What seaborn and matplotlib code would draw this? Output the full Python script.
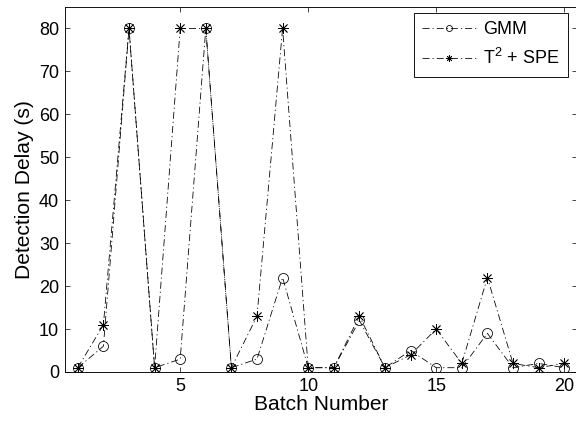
import matplotlib
matplotlib.use("Agg")
import matplotlib.pyplot as plt
import seaborn as sns
import pandas as pd

batch = list(range(1, 21))
gmm = [1, 6, 80, 1, 3, 80, 1, 3, 22, 1, 1, 12, 1, 5, 1, 1, 9, 1, 2, 1]
t2spe = [1, 11, 80, 1, 80, 80, 1, 13, 80, 1, 1, 13, 1, 4, 10, 2, 22, 2, 1, 2]
labels = ["GMM", r"T$^2$ + SPE"]
yticks = [0, 10, 20, 30, 40, 50, 60, 70, 80]
xticks = [5, 10, 15, 20]

sns.set_style("ticks")
plt.rcParams["font.family"] = ["Liberation Sans", "DejaVu Sans"]
plt.rcParams["mathtext.fontset"] = "custom"
plt.rcParams["mathtext.rm"] = "Liberation Sans"
plt.rcParams["mathtext.it"] = "Liberation Sans"
plt.rcParams["lines.scale_dashes"] = False
plt.rcParams["text.color"] = "k"
plt.rcParams["axes.labelcolor"] = "k"
plt.rcParams["xtick.color"] = "k"
plt.rcParams["ytick.color"] = "k"

df = pd.DataFrame({"Batch": batch, "GMM": gmm, "T2SPE": t2spe})

fig = plt.figure(figsize=(576 / 72, 425 / 72), dpi=72)
L, R = 65, 577
ax = fig.add_axes([L / 576, 1 - 372 / 425, (R - L) / 576, (372 - 7) / 425])

dash = (0, (7, 3, 1.2, 3))
sns.lineplot(data=df, x="Batch", y="GMM", ax=ax, color="k", linewidth=0.8,
             linestyle=dash, marker="o", markersize=10, markerfacecolor="none",
             markeredgecolor="k", markeredgewidth=0.8, label=labels[0])
sns.lineplot(data=df, x="Batch", y="T2SPE", ax=ax, color="k", linewidth=0.8,
             linestyle=dash, marker=(8, 2, 0), markersize=11,
             markeredgecolor="k", markeredgewidth=0.8, label=labels[1])

ax.set_xlim(0.5, 20.5)
ax.set_ylim(0, 85)
ax.set_xticks(xticks)
ax.set_yticks(yticks)
ax.tick_params(direction="in", top=True, right=True, length=5, width=0.7,
               labelsize=18, colors="k", labelcolor="k", pad=6)
for s in ax.spines.values():
    s.set_visible(True)
    s.set_linewidth(0.9)
    s.set_color("k")
ax.set_xlabel("Batch Number", fontsize=21, labelpad=0, color="k")
ax.set_ylabel("Detection Delay (s)", fontsize=21, labelpad=5, color="k")

leg = ax.legend(loc="upper right", fontsize=18, handlelength=3.0,
                fancybox=False, framealpha=1, edgecolor="k",
                borderaxespad=0.35, borderpad=0.45, labelspacing=0.55,
                handletextpad=0.4, markerscale=0.6,
                bbox_to_anchor=((574 - L) / (R - L), 1.0))
leg.get_frame().set_linewidth(0.9)
for t in leg.get_texts():
    t.set_color("k")

fig.savefig("out.png", dpi=72)
